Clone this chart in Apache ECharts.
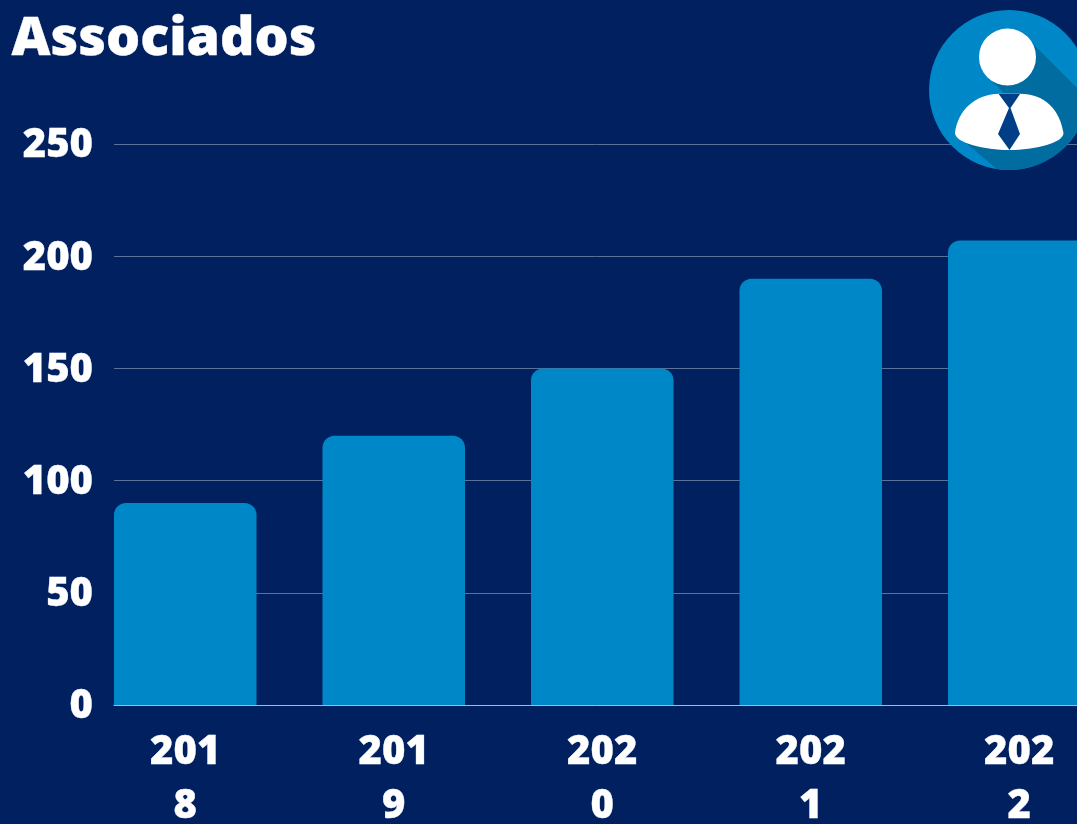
<!DOCTYPE html>
<html>
<head>
<meta charset="utf-8">
<style>html,body{margin:0;padding:0;background:#002060}#chart{width:1077px;height:824px}</style>
<script src="https://cdn.jsdelivr.net/npm/echarts@6/dist/echarts.min.js"></script>
</head>
<body>
<div id="chart"></div>
<script>
const chartTitle = 'Associados';
const years = ['2018', '2019', '2020', '2021', '2022'];
const members = [90, 120, 150, 190, 207];
const yMax = 250;
const yStep = 50;

const font = '"Open Sans", sans-serif';
const chart = echarts.init(document.getElementById('chart'));

// Outlines of the badge parts that plain shapes cannot describe
const badgeOutlines = {
  badgeShadow: 'M1027.5 38.5 L1088.4 99.4 A80 80 0 0 1 997 169.1 L960 138 L975 105 L1003 92 L987.5 77 Z',
  badgeBody: 'M1000 93.7 L1018 93.7 C1045 93 1060 110 1063.5 133 C1063.5 143 1035 150 1009 150 C985 150 955 143 955 133 C958 110 975 94 1000 93.7 Z',
  badgeTie: 'M998.7 94 L1020 94 L1010.5 108 L1020 134 L1009.5 150 L998 134 L1009 108 Z'
};
Object.keys(badgeOutlines).forEach(name => {
  echarts.graphic.registerShape(name, echarts.graphic.extendPath(badgeOutlines[name], {}));
});

// Badge in the top right corner: disc, long shadow, head, shoulders and tie
const badge = [
  { type: 'circle', shape: { cx: 1009, cy: 90, r: 80 }, style: { fill: '#0087C7' } },
  { type: 'badgeShadow', style: { fill: '#006C9F' } },
  { type: 'circle', shape: { cx: 1007.5, cy: 57, r: 28.5 }, style: { fill: '#ffffff' } },
  { type: 'badgeBody', style: { fill: '#ffffff' } },
  { type: 'badgeTie', style: { fill: '#003F87' } }
];

// Slight outline thickens the glyphs to a heavier black weight
const heavyText = { color: '#ffffff', fontFamily: font, fontWeight: 800, textBorderColor: '#ffffff', textBorderWidth: 0.35 };

chart.setOption({
  animation: false,
  backgroundColor: '#002060',
  title: {
    text: chartTitle,
    left: 6.5,
    top: 8,
    textStyle: Object.assign({}, heavyText, { fontSize: 53.7 })
  },
  graphic: { elements: badge.map(el => Object.assign({ z: 10 }, el)) },
  grid: [
    // bands for the bars run past the right edge of the page
    { left: 81, top: 144.1, width: 1042.5, height: 560.9, outerBoundsMode: 'none' },
    // rules and value labels start at the first bar
    { left: 114, top: 144.1, right: 0, height: 560.9, outerBoundsMode: 'none' }
  ],
  xAxis: [
    {
      type: 'category',
      gridIndex: 0,
      data: years,
      axisLine: { show: false },
      axisTick: { show: false },
      axisLabel: Object.assign({}, heavyText, {
        fontSize: 40, width: 80, overflow: 'breakAll', lineHeight: 54, margin: 21, interval: 0
      })
    },
    {
      type: 'value',
      gridIndex: 1,
      min: 0,
      max: 1,
      z: 5,
      axisLine: { show: true, onZero: false, lineStyle: { color: '#8FBFE6', width: 1 } },
      axisTick: { show: false },
      axisLabel: { show: false },
      splitLine: { show: false }
    }
  ],
  yAxis: [
    {
      type: 'value',
      gridIndex: 0,
      min: 0,
      max: yMax,
      interval: yStep,
      axisLine: { show: false },
      axisTick: { show: false },
      axisLabel: { show: false },
      splitLine: { show: false }
    },
    {
      type: 'value',
      gridIndex: 1,
      min: 0,
      max: yMax,
      interval: yStep,
      axisLine: { show: false },
      axisTick: { show: false },
      // a short line box hung from the tick sets the labels just below each rule
      axisLabel: Object.assign({}, heavyText, { fontSize: 40, margin: 21, verticalAlign: 'top', lineHeight: 4 }),
      splitLine: { show: true, lineStyle: { color: '#5B7199', width: 1 } }
    }
  ],
  series: [{
    type: 'bar',
    xAxisIndex: 0,
    yAxisIndex: 0,
    data: members,
    barWidth: 142.5,
    clip: false,
    itemStyle: { color: '#0087C7', borderRadius: [12, 12, 0, 0] }
  }]
});
</script>
</body>
</html>
